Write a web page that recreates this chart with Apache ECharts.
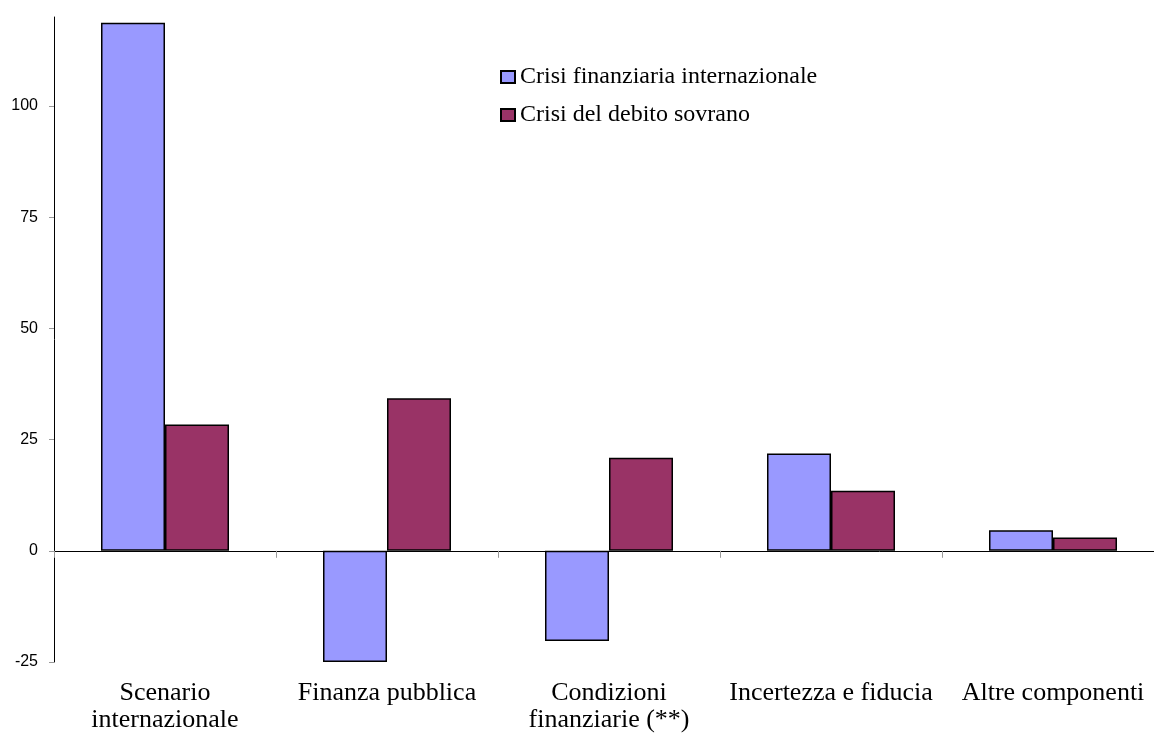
<!DOCTYPE html>
<html>
<head>
<meta charset="utf-8">
<script src="https://cdn.jsdelivr.net/npm/echarts@6/dist/echarts.min.js"></script>
<style>
html,body{margin:0;padding:0;background:#fff;}
#chart{width:1154px;height:736px;}
</style>
</head>
<body>
<div id="chart"></div>
<script>
var categories = ['Scenario\ninternazionale', 'Finanza pubblica', 'Condizioni\nfinanziarie (**)', 'Incertezza e fiducia', 'Altre componenti'];
var seriesNames = ['Crisi finanziaria internazionale', 'Crisi del debito sovrano'];
var crisiFinanziaria = [118.7, -25.0, -20.3, 21.9, 4.6];
var crisiDebito = [28.4, 34.3, 20.9, 13.5, 3.0];
var yTicks = [-25, 0, 25, 50, 75, 100];

var chart = echarts.init(document.getElementById('chart'), null, {renderer: 'canvas'});
chart.setOption({
  backgroundColor: '#ffffff',
  animation: false,
  grid: {left: 54, right: -10, top: 17, bottom: 74, containLabel: false, outerBoundsMode: 'none'},
  legend: {
    orient: 'vertical',
    left: 500,
    top: 65,
    padding: 0,
    itemGap: 14,
    itemWidth: 14,
    itemHeight: 12,
    icon: 'rect',
    data: seriesNames,
    textStyle: {fontFamily: 'Liberation Serif', fontSize: 24, color: '#000'}
  },
  xAxis: [
    {
      type: 'category',
      data: categories,
      position: 'bottom',
      axisLine: {show: true, onZero: true, lineStyle: {color: '#000', width: 1}},
      axisTick: {show: true, length: 7, lineStyle: {color: '#999'}},
      axisLabel: {show: false},
      splitLine: {show: false}
    },
    {
      type: 'category',
      data: categories,
      position: 'bottom',
      axisLine: {show: false, onZero: false},
      axisTick: {show: false},
      axisLabel: {show: true, interval: 0, margin: 18, fontFamily: 'Liberation Serif', fontSize: 26, lineHeight: 27, color: '#000'},
      splitLine: {show: false}
    }
  ],
  yAxis: {
    type: 'value',
    min: -25,
    max: 120,
    interval: 25,
    axisLine: {show: true, lineStyle: {color: '#000', width: 1}},
    axisTick: {show: true, length: 5, customValues: yTicks, lineStyle: {color: '#999'}},
    axisLabel: {margin: 16, customValues: yTicks, fontFamily: 'Liberation Sans', fontSize: 16, color: '#000'},
    splitLine: {show: false}
  },
  series: [
    {
      name: seriesNames[0],
      type: 'bar',
      xAxisIndex: 0,
      data: crisiFinanziaria,
      barWidth: 64,
      barGap: '0%',
      itemStyle: {color: '#9999FF', borderColor: '#000', borderWidth: 1.5}
    },
    {
      name: seriesNames[1],
      type: 'bar',
      xAxisIndex: 0,
      data: crisiDebito,
      barWidth: 64,
      barGap: '0%',
      itemStyle: {color: '#993366', borderColor: '#000', borderWidth: 1.5}
    }
  ]
});
</script>
</body>
</html>
